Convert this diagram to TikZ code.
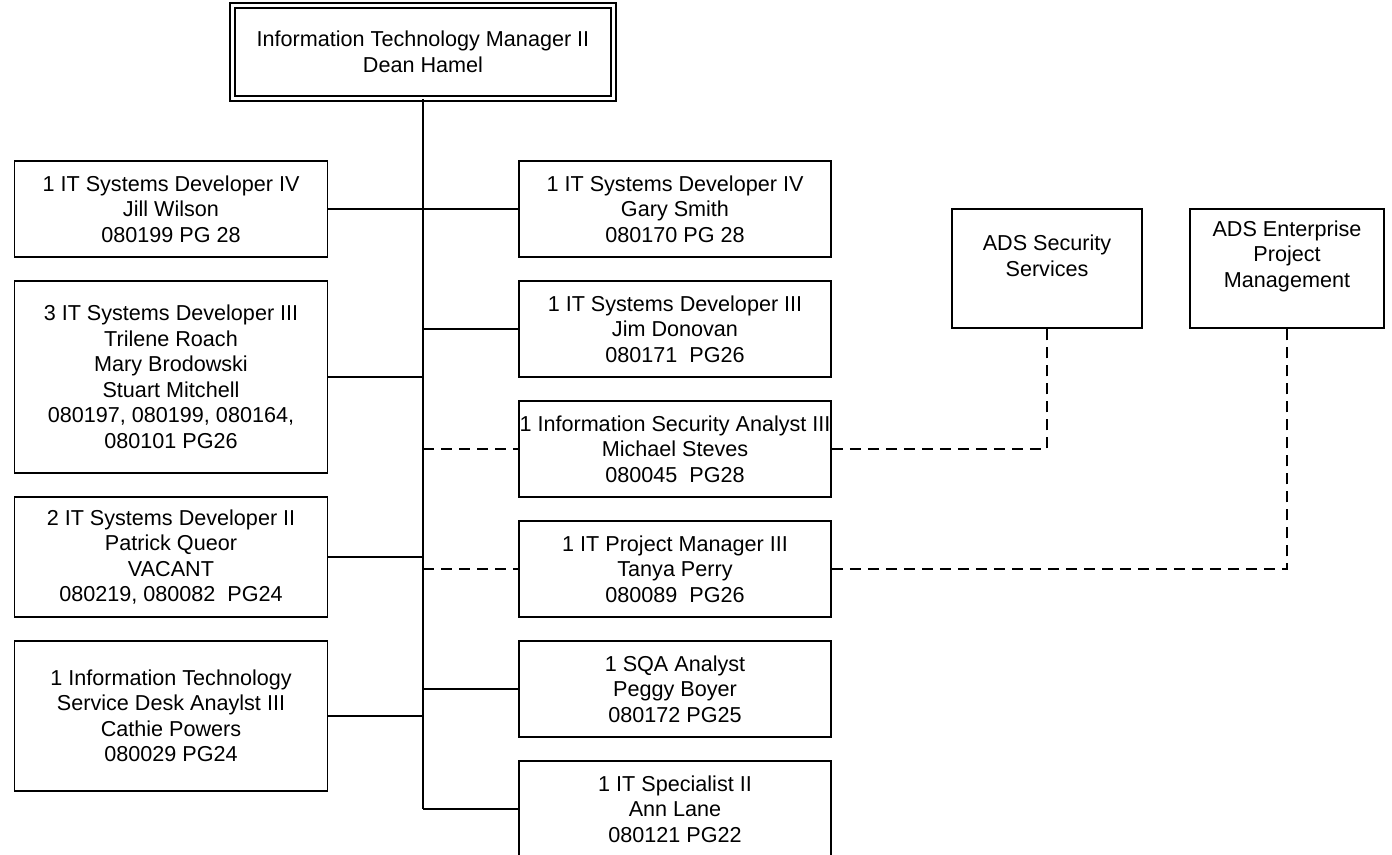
\documentclass[tikz,border=0pt]{standalone}
\usepackage{fontspec}
\setmainfont{Liberation Sans}
\begin{document}
\begin{tikzpicture}[x=1pt,y=-1pt,
  every node/.style={font=\fontsize{21.6}{25.5}\selectfont},
  box/.style={draw, line width=1.5pt, inner sep=0pt, align=center},
  lbox/.style={box, minimum width=313pt},
  rbox/.style={box, minimum width=312pt, minimum height=96pt},
  txt/.style={inner sep=0pt, align=center},
  conn/.style={line width=1.5pt},
  dconn/.style={conn, dash pattern=on 11pt off 7pt}]
\clip (0,0) rectangle (1392,854);
\fill[white] (0,0) rectangle (1392,854);
% top
\node[box, double, double distance=3.5pt, minimum width=381pt, minimum height=93pt] (top) at (423,52)
  {Information Technology Manager II\\Dean Hamel};
% left column
\node[lbox, minimum height=96pt] (jill) at (171,209)
  {1 IT Systems Developer IV\\Jill Wilson\\080199 PG 28};
\node[lbox, minimum height=192pt] (dev3) at (171,377)
  {3 IT Systems Developer III\\Trilene Roach\\Mary Brodowski\\Stuart Mitchell\\080197, 080199, 080164,\\080101 PG26};
\node[lbox, minimum height=120pt] (pat) at (171,557)
  {2 IT Systems Developer II\\Patrick Queor\\VACANT\\080219, 080082\ \ PG24};
\node[lbox, minimum height=150pt] (cat) at (171,716)
  {1 Information Technology\\Service Desk Anaylst III\\Cathie Powers\\080029 PG24};
% right column
\node[rbox] (gary) at (675,209) {1 IT Systems Developer IV\\Gary Smith\\080170 PG 28};
\node[rbox] (jim) at (675,329) {1 IT Systems Developer III\\Jim Donovan\\080171\ \ PG26};
\node[rbox] (mich) at (675,449) {1 Information Security Analyst III\\Michael Steves\\080045\ \ PG28};
\node[rbox] (tanya) at (675,569) {1 IT Project Manager III\\Tanya Perry\\080089\ \ PG26};
\node[rbox] (peggy) at (675,689) {1 SQA Analyst\\Peggy Boyer\\080172 PG25};
\node[rbox] (ann) at (675,809) {1 IT Specialist II\\Ann Lane\\080121 PG22};
% ADS boxes
\node[box, minimum width=190pt, minimum height=119pt] (sec) at (1047,268.5) {};
\node[txt] (sectxt) at (1047,256) {ADS Security\\Services};
\node[box, minimum width=194pt, minimum height=119pt] (ent) at (1287,268.5) {};
\node[txt] (enttxt) at (1287,256) {ADS Enterprise\\Project\\Management};
% connectors
\draw[conn] (top.south) -- (top.south |- ann.west);
\draw[conn] (jill.east) -- (gary.west);
\draw[conn] (dev3.east) -- (dev3.east -| top.south);
\draw[conn] (jim.west) -- (jim.west -| top.south);
\draw[conn] (pat.east) -- (pat.east -| top.south);
\draw[conn] (cat.east) -- (cat.east -| top.south);
\draw[conn] (peggy.west) -- (peggy.west -| top.south);
\draw[conn] (ann.west) -- (ann.west -| top.south);
\draw[dconn] (mich.west -| top.south) -- (mich.west);
\draw[dconn] (tanya.west -| top.south) -- (tanya.west);
\draw[dconn] (mich.east) -| (sec.south);
\draw[dconn] (tanya.east) -| (ent.south);
\end{tikzpicture}
\end{document}
